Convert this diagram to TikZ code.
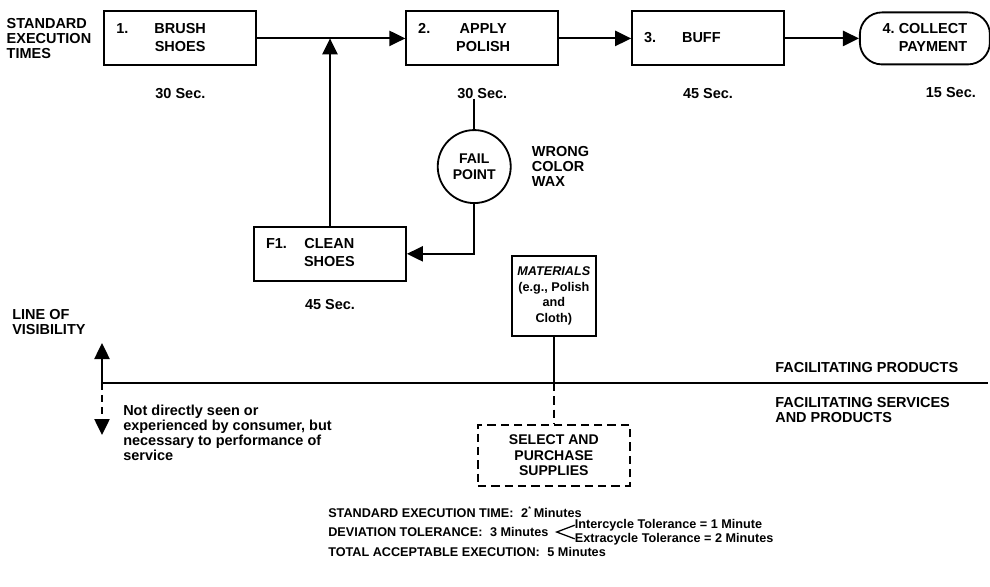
\documentclass[tikz,border=0pt]{standalone}
\usepackage{fontspec}
\setmainfont{Liberation Sans}
\usepackage{tikz}
\usetikzlibrary{arrows.meta, positioning}

\newcommand{\stepnum}[2]{\makebox[0.95cm][l]{#1}\begin{tabular}[t]{@{}c@{}}#2\end{tabular}}

\begin{document}
\begin{tikzpicture}[
    box/.style={rectangle, draw=black, line width=1.3pt, minimum width=3.8cm, minimum height=1.35cm, text width=3.2cm, inner xsep=0.3cm, align=left, font=\bfseries\fontsize{10.3}{12.8}\selectfont},
    endbox/.style={rectangle, rounded corners=0.55cm, draw=black, line width=1.3pt, minimum width=3.25cm, minimum height=1.3cm, align=center, font=\bfseries\fontsize{10.3}{12.8}\selectfont},
    failpt/.style={circle, draw=black, line width=1.3pt, minimum size=1.825cm, inner sep=0pt, align=center, font=\bfseries\fontsize{10}{11.4}\selectfont},
    matbox/.style={rectangle, draw=black, line width=1.3pt, minimum width=2.1cm, minimum height=2cm, inner sep=1pt, align=center, font=\bfseries\fontsize{9}{11}\selectfont},
    selbox/.style={rectangle, draw=black, line width=1.3pt, dash pattern=on 6pt off 3.5pt, minimum width=3.8cm, minimum height=1.525cm, align=center, font=\bfseries\fontsize{10}{11}\selectfont},
    secs/.style={inner sep=0pt, font=\bfseries\fontsize{10.3}{12}\selectfont},
    note/.style={inner sep=0pt, align=left, font=\bfseries\fontsize{10.3}{10.7}\selectfont},
    foot/.style={inner sep=0pt, align=left, font=\bfseries\fontsize{9}{10.5}\selectfont},
    link/.style={line width=1.3pt},
    dashlink/.style={line width=1.3pt, dash pattern=on 6pt off 3.5pt},
    arrow/.style={-{Triangle[length=0.4cm, width=0.38cm]}, line width=1.3pt}
]
\useasboundingbox (0,0) rectangle (24.75,-14.65);

\node[box] (brush) at (4.51,-0.96) {\stepnum{1.}{BRUSH\\SHOES}};
\node[box, right=3.7cm of brush] (polish) {\stepnum{2.}{APPLY\\POLISH}};
\node[box, right=1.8cm of polish] (buff) {\stepnum{3.}{BUFF}};
\node[endbox, right=1.85cm of buff] (payment) {4.\ \begin{tabular}[t]{@{}c@{}}COLLECT\\PAYMENT\end{tabular}};

\node[note, left=0.3cm of brush] (stdtimes) {STANDARD\\EXECUTION\\TIMES};

\node[secs, below=0.54cm of brush] (sec1) {30 Sec.};
\node[secs, below=0.54cm of polish] (sec2) {30 Sec.};
\node[secs, below=0.54cm of buff] (sec3) {45 Sec.};
\node[secs, below=0.54cm of payment, xshift=0.65cm] (sec4) {15 Sec.};

\node[failpt, below=0.76cm of sec2, xshift=-0.2cm] (fail) {FAIL\\POINT};
\node[note, right=0.5cm of fail] (wrong) {WRONG\\COLOR\\WAX};

\node[box, below=3.99cm of brush, xshift=3.74cm] (clean) {\stepnum{F1.}{CLEAN\\SHOES}};
\node[secs, below=0.43cm of clean] (sec5) {45 Sec.};

\node[matbox, right=2.6cm of clean, yshift=-1.05cm] (mat) {\textit{MATERIALS}\\(e.g., Polish\\and\\Cloth)};
\node[selbox, below=2.175cm of mat] (select) {SELECT AND\\PURCHASE\\SUPPLIES};

\coordinate (vis) at (2.55,-9.575);
\coordinate (visend) at (24.7,-9.575);
\coordinate (visup) at (2.55,-8.575);
\coordinate (visdown) at (2.55,-10.875);
\coordinate (join) at (clean.north |- brush.east);
\coordinate (cross) at (mat.south |- vis);

\node[note, anchor=west] (lov) at (0.3,-8.06) {LINE OF\\VISIBILITY};
\node[note, anchor=north west] (unseen) at (3.075,-10.11) {Not directly seen or\\experienced by consumer, but\\necessary to performance of\\service};
\node[note, anchor=west] (facprod) at (19.375,-9.2) {FACILITATING PRODUCTS};
\node[note, anchor=west] (facserv) at (19.375,-10.26) {FACILITATING SERVICES\\AND PRODUCTS};

\node[foot, anchor=west] (tstd) at (8.2,-12.8) {STANDARD EXECUTION TIME:\hspace{0.6em}2\textsuperscript{\tiny *}\,Minutes};
\node[foot, below=0.5cm of tstd.west, anchor=west] (tdev) {DEVIATION TOLERANCE:\hspace{0.6em}3 Minutes};
\node[foot, below=0.5cm of tdev.west, anchor=west] (ttot) {TOTAL ACCEPTABLE EXECUTION:\hspace{0.6em}5 Minutes};
\coordinate[right=0.2cm of tdev.east] (chev);
\node[foot, anchor=west] (inter) at ([shift={(0.45cm,0.17cm)}]chev) {Intercycle Tolerance = 1 Minute};
\node[foot, anchor=west] (extra) at ([shift={(0.45cm,-0.17cm)}]chev) {Extracycle Tolerance = 2 Minutes};

\draw[arrow] (brush) -- (polish);
\draw[arrow] (polish) -- (buff);
\draw[arrow] (buff) -- (payment);
\draw[arrow] (clean) -- (join);

\draw[link] (fail.north |- sec2.south) -- (fail);
\draw[arrow] (fail) |- (clean);

\draw[link] (vis) -- (visend);
\draw[arrow] (vis) -- (visup);
\draw[arrow, dash pattern=on 5pt off 3.5pt] (vis) -- (visdown);

\draw[link] (mat) -- (cross);
\draw[dashlink] (cross) -- (select);

\draw[line width=0.9pt] (inter.west) -- (chev) -- (extra.west);

\end{tikzpicture}
\end{document}
